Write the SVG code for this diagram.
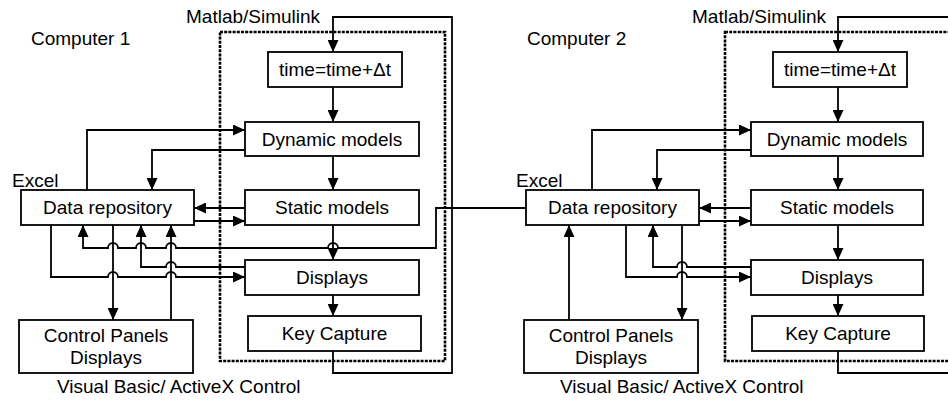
<svg xmlns="http://www.w3.org/2000/svg" width="948" height="401" viewBox="0 0 948 401">
<style>
  .box{fill:#fff;stroke:#000;stroke-width:1.8}
  .t{font-family:"Liberation Sans",Arial,sans-serif;font-size:19px;fill:#000}
  .c{text-anchor:middle}
  .ln{fill:none;stroke:#000;stroke-width:1.8}
  .arr{marker-end:url(#ah)}
  .dash{fill:none;stroke:#000;stroke-width:2.6;stroke-dasharray:3 1.2}
</style>
<defs>
  <marker id="ah" markerUnits="userSpaceOnUse" markerWidth="12" markerHeight="11" refX="12" refY="5.5" orient="auto">
    <path d="M0,0 L12,5.5 L0,11 Z" fill="#000"/>
  </marker>
</defs>
<rect width="948" height="401" fill="#fff"/>

<!-- labels -->
<text class="t" x="31" y="45">Computer 1</text>
<text class="t" x="186" y="23">Matlab/Simulink</text>
<text class="t" x="12" y="187">Excel</text>
<text class="t" x="57" y="393">Visual Basic/ ActiveX Control</text>
<text class="t" x="527" y="45">Computer 2</text>
<text class="t" x="692" y="23">Matlab/Simulink</text>
<text class="t" x="516" y="187">Excel</text>
<text class="t" x="560" y="393">Visual Basic/ ActiveX Control</text>

<rect class="dash" x="220" y="32" width="225" height="329"/>
<rect class="dash" x="725" y="32" width="260" height="329"/>

<g id="connectors">
  <!-- Computer 1 -->
  <path class="ln arr" d="M87,190 V130 H245"/>
  <path class="ln arr" d="M245,150 H152 V190"/>
  <path class="ln arr" d="M245,208 H194"/>
  <path class="ln arr" d="M194,221 H245"/>
  <path class="ln arr" d="M245,267 H176 A5,5 0 0 0 166,267 H141 V225"/>
  <path class="ln arr" d="M51,225 V277 H108 A5,5 0 0 1 118,277 H166 A5,5 0 0 1 176,277 H245"/>
  <path class="ln arr" d="M113,225 V320"/>
  <path class="ln arr" d="M171,320 V225"/>
  <path class="ln arr" d="M526,208 H436 V248 H338 A5,5 0 0 0 328,248 H176 A5,5 0 0 0 166,248 H146 A5,5 0 0 0 136,248 H118 A5,5 0 0 0 108,248 H83 V225"/>
  <path class="ln arr" d="M333,87 V122"/>
  <path class="ln arr" d="M333,156 V190"/>
  <path class="ln arr" d="M333,225 V260"/>
  <path class="ln arr" d="M333,295 V316"/>
  <path class="ln arr" d="M333,351 V373 H452 V17 H333 V52"/>
  <!-- Computer 2 -->
  <path class="ln arr" d="M592,190 V130 H751"/>
  <path class="ln arr" d="M751,150 H657 V190"/>
  <path class="ln arr" d="M751,208 H699"/>
  <path class="ln arr" d="M699,221 H751"/>
  <path class="ln arr" d="M751,267 H687 A5,5 0 0 0 677,267 H653 V225"/>
  <path class="ln arr" d="M626,225 V277 H677 A5,5 0 0 1 687,277 H751"/>
  <path class="ln arr" d="M682,225 V320"/>
  <path class="ln arr" d="M569,320 V225"/>
  <path class="ln arr" d="M838,87 V122"/>
  <path class="ln arr" d="M838,156 V190"/>
  <path class="ln arr" d="M838,225 V260"/>
  <path class="ln arr" d="M838,295 V316"/>
  <path class="ln" d="M838,351 V373 H960"/>
  <path class="ln arr" d="M960,17 H838 V52"/>
</g>

<!-- Computer 1 nodes -->
<g id="c1-time"><rect class="box" x="268" y="52" width="134" height="35"/><text class="t c" x="335" y="76">time=time+Δt</text></g>
<g id="c1-dynamic"><rect class="box" x="245" y="122" width="174" height="34"/><text class="t c" x="332" y="146">Dynamic models</text></g>
<g id="c1-static"><rect class="box" x="245" y="190" width="174" height="35"/><text class="t c" x="332" y="214">Static models</text></g>
<g id="c1-displays"><rect class="box" x="245" y="260" width="174" height="35"/><text class="t c" x="332" y="284">Displays</text></g>
<g id="c1-keycapture"><rect class="box" x="248" y="316" width="173" height="35"/><text class="t c" x="334.5" y="340">Key Capture</text></g>
<g id="c1-datarepo"><rect class="box" x="21" y="190" width="173" height="35"/><text class="t c" x="107.5" y="214">Data repository</text></g>
<g id="c1-controlpanels"><rect class="box" x="19" y="320" width="174" height="53"/><text class="t c" x="106" y="342">Control Panels</text><text class="t c" x="106" y="364">Displays</text></g>

<!-- Computer 2 nodes -->
<g id="c2-time"><rect class="box" x="773" y="52" width="134" height="35"/><text class="t c" x="840" y="76">time=time+Δt</text></g>
<g id="c2-dynamic"><rect class="box" x="751" y="122" width="172" height="34"/><text class="t c" x="837" y="146">Dynamic models</text></g>
<g id="c2-static"><rect class="box" x="751" y="190" width="172" height="35"/><text class="t c" x="837" y="214">Static models</text></g>
<g id="c2-displays"><rect class="box" x="751" y="260" width="172" height="35"/><text class="t c" x="837" y="284">Displays</text></g>
<g id="c2-keycapture"><rect class="box" x="752" y="316" width="172" height="35"/><text class="t c" x="838" y="340">Key Capture</text></g>
<g id="c2-datarepo"><rect class="box" x="526" y="190" width="173" height="35"/><text class="t c" x="612.5" y="214">Data repository</text></g>
<g id="c2-controlpanels"><rect class="box" x="524" y="320" width="174" height="53"/><text class="t c" x="611" y="342">Control Panels</text><text class="t c" x="611" y="364">Displays</text></g>
</svg>
